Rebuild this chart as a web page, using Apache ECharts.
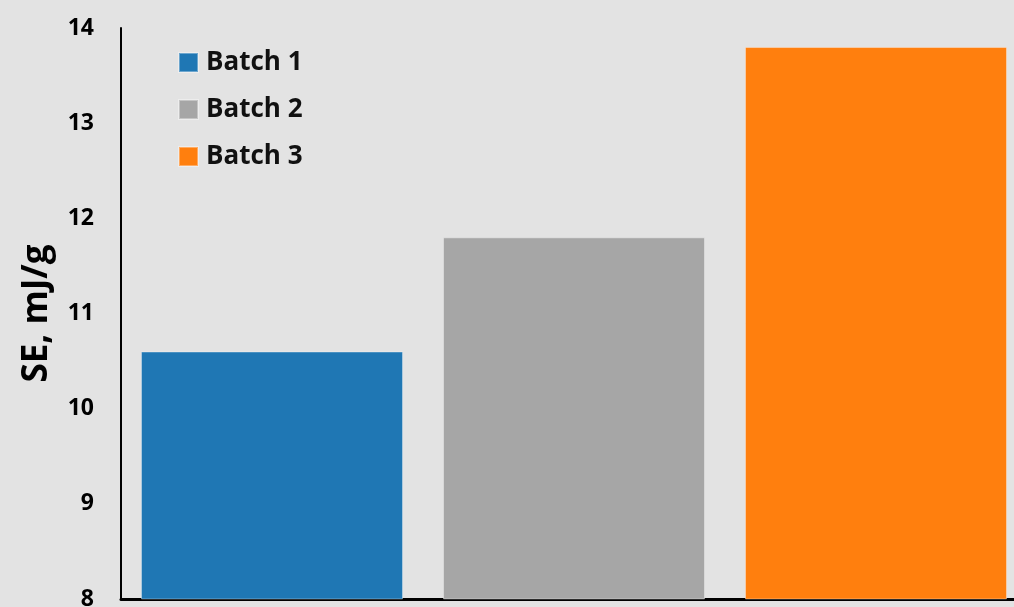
<!DOCTYPE html>
<html>
<head>
<meta charset="utf-8">
<script src="https://cdn.jsdelivr.net/npm/echarts@6/dist/echarts.min.js"></script>
<style>
  html, body { margin: 0; padding: 0; background: #e3e3e3; }
  #chart { width: 1014px; height: 607px; }
</style>
</head>
<body>
<div id="chart"></div>
<script>
var categories = ['A', 'B', 'C'];
var seriesNames = ['Batch 1', 'Batch 2', 'Batch 3'];
var batch1 = [10.6, '-', '-'];
var batch2 = ['-', 11.8, '-'];
var batch3 = ['-', '-', 13.8];
var colors = ['#1f77b4', '#a6a6a6', '#ff7f0e'];

var myChart = echarts.init(document.getElementById('chart'));

function barSeries(name, data, color) {
    return {
        name: name,
        type: 'bar',
        stack: 'all',
        data: data,
        barWidth: 262,
        itemStyle: { color: color, borderColor: 'rgba(255,255,255,0.35)', borderWidth: 1 }
    };
}

var option = {
    backgroundColor: '#e3e3e3',
    animation: false,
    color: colors,
    textStyle: { fontFamily: 'Open Sans' },
    legend: {
        orient: 'vertical',
        left: 173,
        top: 41,
        itemWidth: 19,
        itemHeight: 19,
        itemGap: 14,
        icon: 'rect',
        textStyle: { fontSize: 26, fontWeight: 'bold', color: '#111', padding: [0, 0, 0, 3], lineHeight: 33 },
        data: seriesNames
    },
    grid: { left: 121, width: 906, top: 28, bottom: 8, outerBoundsMode: 'none' },
    xAxis: {
        type: 'category',
        data: categories,
        axisLine: { lineStyle: { color: '#000', width: 3 } },
        axisTick: { show: false },
        axisLabel: { show: false }
    },
    yAxis: {
        type: 'value',
        min: 8,
        max: 14,
        interval: 1,
        name: 'SE, mJ/g',
        nameLocation: 'middle',
        nameGap: 66,
        nameTextStyle: { fontSize: 35, fontWeight: 'bold', color: '#000' },
        axisLine: { show: true, lineStyle: { color: '#000', width: 2 } },
        axisTick: { show: false },
        splitLine: { show: false },
        axisLabel: { fontSize: 23, fontWeight: 'bold', color: '#000', margin: 27 }
    },
    series: [
        barSeries(seriesNames[0], batch1, colors[0]),
        barSeries(seriesNames[1], batch2, colors[1]),
        barSeries(seriesNames[2], batch3, colors[2])
    ]
};

myChart.setOption(option);
</script>
</body>
</html>
